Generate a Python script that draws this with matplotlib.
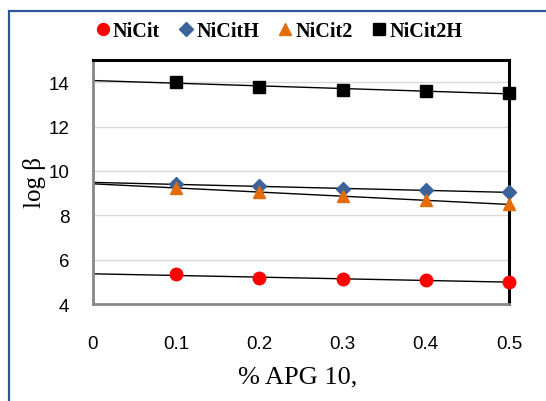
import numpy as np
import matplotlib.pyplot as plt
from matplotlib.patches import Rectangle
from matplotlib.lines import Line2D

apg = [0.1, 0.2, 0.3, 0.4, 0.5]
nicit = [5.33, 5.17, 5.11, 5.06, 5.01]
nicith = [9.40, 9.30, 9.20, 9.12, 9.04]
nicit2 = [9.25, 9.03, 8.85, 8.67, 8.50]
nicit2h = [14.03, 13.78, 13.65, 13.58, 13.53]

names = ['NiCit', 'NiCitH', 'NiCit2', 'NiCit2H']
series = [nicit, nicith, nicit2, nicit2h]
markers = ['o', 'D', '^', 's']
sizes = [9, 7, 9, 8.5]
colors = ['#FF0000', '#3B6399', '#E46C0A', '#000000']

fig = plt.figure(figsize=(5.46, 4.02), dpi=100)
ax = fig.add_axes([93 / 546, 1 - 305 / 402, 416 / 546, 244 / 402])

# outer chart border (only left/top visible)
fig.patches.append(Rectangle((9 / 546, -0.1), 1.2, 1 - 12 / 402 + 0.1,
                             transform=fig.transFigure, fill=False,
                             edgecolor='#2F5597', lw=1.6))

xs = np.array([0, 0.5])
handles = []
for name, ys, m, ms, c in zip(names, series, markers, sizes, colors):
    # linear trendline, forecast back to 0
    k, b = np.polyfit(apg, ys, 1)
    ax.plot(xs, k * xs + b, color='black', lw=1, zorder=2)
    ax.plot(apg, ys, linestyle='none', marker=m, markersize=ms,
            color=c, zorder=3, clip_on=False)
    handles.append(Line2D([], [], linestyle='none', marker=m, markersize=ms * 0.95,
                          color=c, label=name))

ax.set_xlim(0, 0.5)
ax.set_ylim(4, 15)
ax.set_xticks([0, 0.1, 0.2, 0.3, 0.4, 0.5])
ax.set_xticklabels(['0', '0.1', '0.2', '0.3', '0.4', '0.5'])
ax.set_yticks([4, 6, 8, 10, 12, 14])
ax.tick_params(length=0, labelsize=13.5)
ax.tick_params(axis='x', pad=22)
ax.tick_params(axis='y', pad=17)
for lab in ax.get_xticklabels() + ax.get_yticklabels():
    lab.set_family('Liberation Sans')

ax.grid(axis='y', color='#D9D9D9', lw=1)
ax.set_axisbelow(True)
ax.spines['top'].set_color('black')
ax.spines['top'].set_linewidth(2.2)
ax.spines['right'].set_color('black')
ax.spines['right'].set_linewidth(2.2)
ax.spines['left'].set_color('#888888')
ax.spines['left'].set_linewidth(2)
ax.spines['bottom'].set_color('#888888')
ax.spines['bottom'].set_linewidth(2)

fig.text(34 / 546, 1 - 182 / 402, 'log β', rotation=90, ha='center', va='center',
         family='Liberation Serif', fontsize=18)
fig.text(298 / 546, 1 - 377 / 402, '% APG 10,', ha='center', va='center',
         family='Liberation Serif', fontsize=19)

fig.legend(handles=handles, loc='center', bbox_to_anchor=(279 / 546, 1 - 32 / 402),
           ncol=4, frameon=False, handlelength=0.7, handletextpad=0.15,
           columnspacing=0.95, prop={'family': 'Liberation Serif', 'weight': 'bold', 'size': 14.5})

fig.savefig('out.png', dpi=100)
